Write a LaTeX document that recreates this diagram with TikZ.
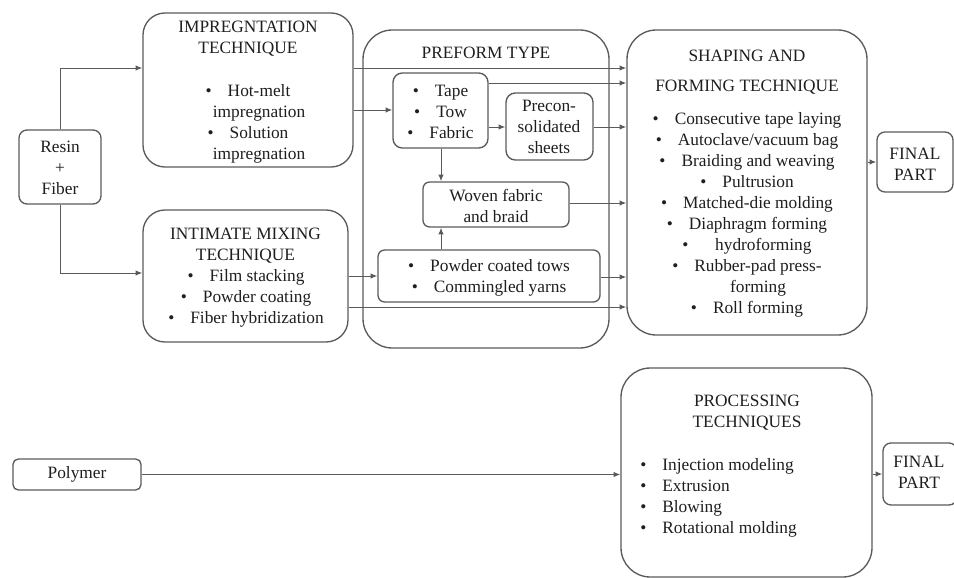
\documentclass[tikz,border=0pt]{standalone}
\usepackage{fontspec}
\setmainfont{Liberation Serif}
\usetikzlibrary{arrows.meta,fit}
\definecolor{ln}{HTML}{5A5A5A}
\definecolor{tx}{HTML}{1E1E1E}
\newcommand{\bl}{•\hspace{12pt}}
\newcommand{\pb}{\phantom{•\hspace{12pt}}}
\begin{document}
\begin{tikzpicture}[x=0.75pt,y=-0.75pt,
  font=\fontsize{13}{15.75}\selectfont,
  box/.style={draw=ln,line width=1pt,inner sep=0pt,rounded corners=#1},
  box/.default=6pt,
  txt/.style={text=tx,align=center,inner sep=0pt},
  arr/.style={draw=ln,line width=0.75pt,-{Latex[length=5pt,width=4pt]}}]
\useasboundingbox (0,0) rectangle (954,578);
% boxes
\node[box=6pt,   fit={(19,130) (101,204)}] (resin) {};
\node[box=16.5pt,fit={(143,13) (353,167)}] (imp) {};
\node[box=16.5pt,fit={(143,210) (348,342)}] (mix) {};
\node[box=22pt,  fit={(363,30) (609,348)}] (pre) {};
\node[box=7pt,   fit={(393,73) (488,148)}] (tape) {};
\node[box=7pt,   fit={(506,93) (593,160)}] (precon) {};
\node[box=5pt,   fit={(423,182) (569,227)}] (woven) {};
\node[box=5pt,   fit={(378,250) (600,302)}] (powder) {};
\node[box=22pt,  fit={(627,30) (867,335)}] (shape) {};
\node[box=6pt,   fit={(877,132) (953,192)}] (fin1) {};
\node[box=4pt,   fit={(13,459) (141,490)}] (poly) {};
\node[box=22pt,  fit={(621,368) (872,577)}] (proc) {};
\node[box=6pt,   fit={(883,443) (957,505)}] (fin2) {};
% texts
\node[txt] (resinT) at (60,168) {Resin\\+\\Fiber};
\node[txt] (impT) at (248,39) {IMPREGNTATION\\TECHNIQUE};
\node[txt] (impL) at (248,124) {\bl Hot-melt\\\pb impregnation\\\bl Solution\\\pb impregnation};
\node[txt] (mixT) at (245.5,245.5) {INTIMATE MIXING\\TECHNIQUE};
\node[txt] (mixL) at (246,298) {\bl Film stacking\\\bl Powder coating\\\bl Fiber hybridization};
\node[txt] (preT) at (486,53) {PREFORM TYPE};
\node[txt] (tapeT) at (440.5,112) {\bl Tape\\\bl Tow\\\bl Fabric};
\node[txt] (preconT) at (549,127) {Precon-\\solidated\\sheets};
\node[txt] (wovenT) at (496,205.5) {Woven fabric\\and braid};
\node[txt] (powderT) at (489,277.5) {\bl Powder coated tows\\\bl Commingled yarns};
\node[txt] (shapeT) at (747,72) {SHAPING AND\\[7pt]FORMING TECHNIQUE};
\node[txt] (shapeL) at (747,215) {\bl Consecutive tape laying\\\bl Autoclave/vacuum bag\\\bl Braiding and weaving\\\bl Pultrusion\\\bl Matched-die molding\\\bl Diaphragm forming\\•\hspace{20pt}hydroforming\\\bl Rubber-pad press-\\\pb forming\\\bl Roll forming};
\node[txt] (fin1T) at (915,164) {FINAL\\PART};
\node[txt] (polyT) at (77,474.5) {Polymer};
\node[txt] (procT) at (747,413) {PROCESSING\\TECHNIQUES};
\node[txt,align=left,anchor=west] (procL) at (640,498) {\bl Injection modeling\\\bl Extrusion\\\bl Blowing\\\bl Rotational molding};
\node[txt] (fin2T) at (919,472.5) {FINAL\\PART};
% connectors
\draw[arr] (resin.north) |- (imp.west |- 0,68);
\draw[arr] (resin.south) |- (mix.west |- 0,273);
\draw[arr] (imp.east |- 0,68) -- (shape.west |- 0,68);
\draw[arr] (imp.east |- 0,110) -- (tape.west |- 0,110);
\draw[arr] (tape.east |- 0,83) -- (shape.west |- 0,83);
\draw[arr] (tape.east |- 0,127) -- (precon.west |- 0,127);
\draw[arr] (precon.east |- 0,127) -- (shape.west |- 0,127);
\draw[arr] (tape.south -| 441,0) -- (woven.north -| 441,0);
\draw[arr] (powder.north -| 441,0) -- (woven.south -| 441,0);
\draw[arr] (woven.east |- 0,203) -- (shape.west |- 0,203);
\draw[arr] (mix.east |- 0,276) -- (powder.west |- 0,276);
\draw[arr] (powder.east |- 0,277) -- (shape.west |- 0,277);
\draw[arr] (mix.east |- 0,307) -- (shape.west |- 0,307);
\draw[arr] (shape.east |- fin1.west) -- (fin1.west);
\draw[arr] (poly.east) -- (proc.west |- poly.east);
\draw[arr] (proc.east |- fin2.west) -- (fin2.west);
\end{tikzpicture}
\end{document}
